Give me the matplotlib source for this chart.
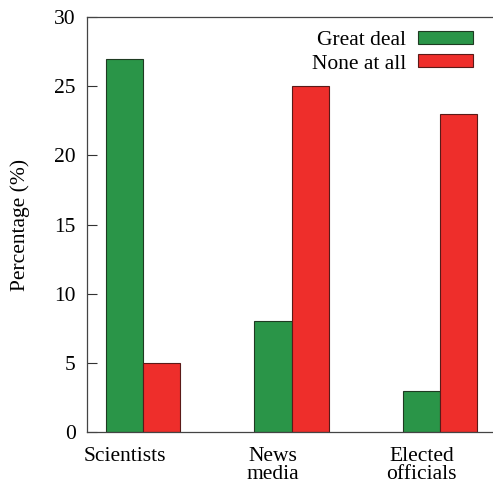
import matplotlib
matplotlib.use("Agg")
import matplotlib.pyplot as plt
import numpy as np

categories = ["Scientists", "News\nmedia", "Elected\nofficials"]
great_deal = [27, 8, 3]
none_at_all = [5, 25, 23]
series_labels = ["Great deal", "None at all"]
yticks = [0, 5, 10, 15, 20, 25, 30]

plt.rcParams['font.family'] = ['Liberation Serif', 'DejaVu Serif']

W, H = 493, 491
fs = 15.5
fig = plt.figure(figsize=(W/100, H/100), dpi=100)
# axes in pixels: left 87, top 17, bottom 432, right ~496 (beyond figure edge)
l, r, t, b = 87, 496, 17, 432
ax = fig.add_axes([l/W, 1-b/H, (r-l)/W, (b-t)/H])

green = "#2a9548"
red = "#ee2e2b"
bw = 0.25
x = np.arange(len(categories))
ax.bar(x - bw/2, great_deal, bw, color=green, edgecolor="#1f3a22", linewidth=0.8, label=series_labels[0])
ax.bar(x + bw/2, none_at_all, bw, color=red, edgecolor="#5a1a18", linewidth=0.8, label=series_labels[1])

ax.set_xlim(-0.377, 2.377)
ax.set_ylim(0, 30)
ax.set_yticks(yticks)
ax.set_yticklabels([str(v) for v in yticks], fontsize=fs)
ax.tick_params(axis='y', direction='in', length=7, width=0.8, colors='#333333', labelcolor='black', pad=8)
ax.set_xticks(x - bw/2)
ax.set_xticklabels(categories, fontsize=fs, linespacing=0.9)
ax.tick_params(axis='x', length=0, pad=11)
for s in ax.spines.values():
    s.set_color('#444444')
    s.set_linewidth(0.9)

ax.set_ylabel("Percentage (%)", fontsize=fs)
ax.yaxis.set_label_coords((20 - l)/(r - l), 0.5)
ax.yaxis.label.set_va('center')

leg = ax.legend(loc='upper right', bbox_to_anchor=((473-l)/(r-l), 1 - (31-t)/(b-t)),
                frameon=False, fontsize=fs, markerfirst=False,
                handlelength=2.55, handleheight=0.55, handletextpad=0.55,
                labelspacing=0.2, borderpad=0, borderaxespad=0)

fig.savefig("out.png", dpi=100)
